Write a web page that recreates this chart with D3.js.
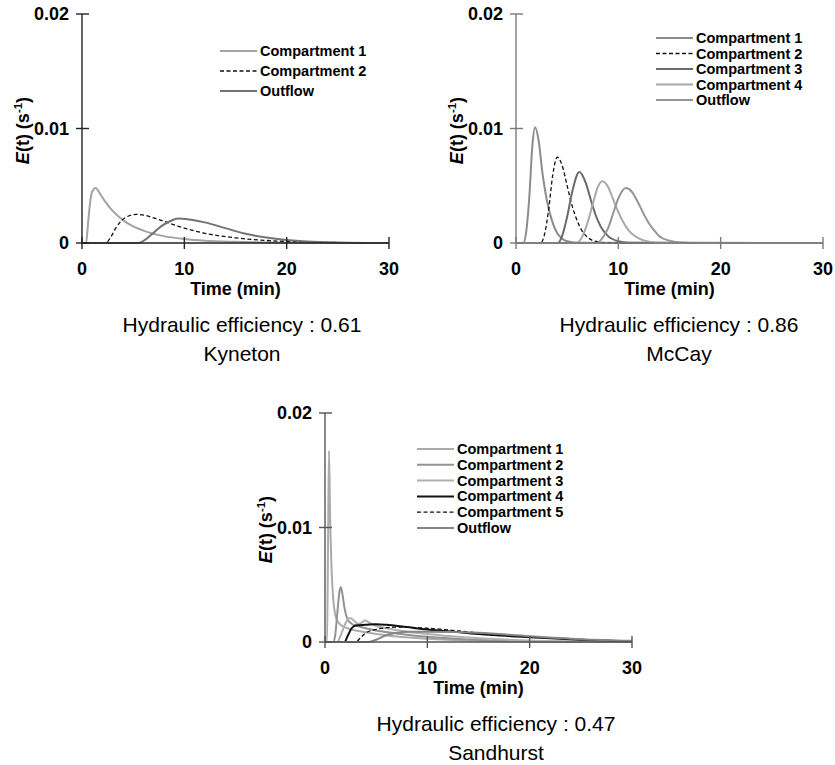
<!DOCTYPE html>
<html>
<head>
<meta charset="utf-8">
<script src="https://cdn.jsdelivr.net/npm/d3@7"></script>
<style>
  body { margin: 0; background: #fff; }
  svg { font-family: "Liberation Sans", Arial, sans-serif; }
</style>
</head>
<body>
<svg id="chart" width="835" height="765"></svg>
<script>
// ---- Kyneton ----
const KY_C1_T = [0, 0.4, 0.6, 0.8, 1.0, 1.34, 1.7, 2.2, 3, 4, 5, 6, 8, 10, 12, 15, 20, 25, 30];
const KY_C1_V = [0, 0, 0.0018, 0.0036, 0.0045, 0.0048, 0.0044, 0.0037, 0.0028, 0.002, 0.00145, 0.00108, 0.0006, 0.00035, 0.0002, 0.0001, 0.00003, 0.00001, 0];
const KY_C2_T = [0, 2.3, 2.8, 3.3, 3.8, 4.4, 5.3, 6.2, 7, 8, 10, 12, 15, 18, 20, 25, 30];
const KY_C2_V = [0, 0, 0.0005, 0.0013, 0.0019, 0.0023, 0.0025, 0.0024, 0.0022, 0.0019, 0.0013, 0.00085, 0.00045, 0.00022, 0.00014, 0.00004, 0];
const KY_OUT_T = [0, 5.5, 6.2, 7, 7.8, 8.6, 9.4, 10.5, 12, 14, 16, 18, 20, 22, 25, 30];
const KY_OUT_V = [0, 0, 0.0003, 0.0009, 0.0015, 0.0019, 0.00215, 0.00205, 0.0018, 0.0013, 0.0008, 0.00048, 0.00027, 0.00014, 0.00005, 0];

// ---- McCay ----
const MC_C1_T = [0, 0.7, 1.0, 1.3, 1.6, 1.86, 2.2, 2.6, 3.0, 3.5, 4.0, 4.5, 5, 6, 30];
const MC_C1_V = [0, 0, 0.001, 0.004, 0.0085, 0.0101, 0.009, 0.006, 0.0038, 0.002, 0.0009, 0.0004, 0.00015, 0.00002, 0];
const MC_C2_T = [0, 2.4, 2.8, 3.2, 3.6, 4.04, 4.5, 5, 5.5, 6, 6.5, 7, 8, 9, 30];
const MC_C2_V = [0, 0, 0.0008, 0.003, 0.006, 0.0075, 0.0068, 0.005, 0.0032, 0.0019, 0.001, 0.0005, 0.0001, 0.00002, 0];
const MC_C3_T = [0, 4.1, 4.5, 5, 5.5, 6.19, 6.8, 7.3, 7.8, 8.3, 9, 10, 11, 30];
const MC_C3_V = [0, 0, 0.0006, 0.0023, 0.0045, 0.0062, 0.0053, 0.0038, 0.0024, 0.0014, 0.0006, 0.00015, 0.00003, 0];
const MC_C4_T = [0, 5.9, 6.5, 7, 7.5, 8.0, 8.44, 9, 9.5, 10, 10.5, 11, 12, 13, 14, 30];
const MC_C4_V = [0, 0, 0.0006, 0.0018, 0.0034, 0.0049, 0.0054, 0.0049, 0.0038, 0.0027, 0.0018, 0.0011, 0.0004, 0.0001, 0.00002, 0];
const MC_OUT_T = [0, 7.9, 8.5, 9, 9.5, 10, 10.75, 11.3, 12, 12.5, 13, 13.5, 14, 15, 16, 17, 30];
const MC_OUT_V = [0, 0, 0.0005, 0.0013, 0.0026, 0.0039, 0.0048, 0.0045, 0.0034, 0.0025, 0.0017, 0.0011, 0.0006, 0.0002, 0.00004, 0, 0];

// ---- Sandhurst ----
const SH_C1_T = [0, 0.2, 0.3, 0.39, 0.5, 0.65, 0.8, 1.0, 1.3, 1.7, 2.2, 3, 4, 5, 7, 10, 13, 16, 20, 25, 30];
const SH_C1_V = [0, 0, 0.009, 0.0167, 0.011, 0.0062, 0.0038, 0.0024, 0.0017, 0.0014, 0.0012, 0.001, 0.00085, 0.0007, 0.00048, 0.00028, 0.00015, 0.00008, 0.00003, 0.00001, 0];
const SH_C2_T = [0, 0.8, 1.0, 1.2, 1.4, 1.54, 1.7, 1.9, 2.2, 2.6, 3.2, 4, 5, 7, 10, 13, 16, 20, 25, 30];
const SH_C2_V = [0, 0, 0.0006, 0.0025, 0.0043, 0.0048, 0.0042, 0.003, 0.002, 0.0016, 0.0014, 0.0012, 0.001, 0.00075, 0.00045, 0.00027, 0.00015, 0.00007, 0.00002, 0];
const SH_C3_T = [0, 1.2, 1.5, 1.8, 2.1, 2.44, 2.8, 3.2, 3.6, 3.9, 4.3, 5, 6, 8, 10, 13, 16, 20, 25, 30];
const SH_C3_V = [0, 0, 0.0005, 0.0012, 0.0018, 0.0021, 0.0019, 0.0016, 0.0017, 0.0019, 0.0017, 0.0014, 0.0012, 0.0009, 0.0007, 0.00045, 0.00028, 0.00013, 0.00004, 0];
const SH_C4_T = [0, 1.9, 2.2, 2.6, 3.0, 4, 5, 6, 8, 10, 12, 15, 20, 25, 30];
const SH_C4_V = [0, 0, 0.0005, 0.0012, 0.00145, 0.0015, 0.00155, 0.0015, 0.0013, 0.0011, 0.00095, 0.0007, 0.00042, 0.0002, 0.00006];
const SH_C5_T = [0, 3.0, 3.5, 4, 5, 6, 7, 10, 15, 20, 25, 30];
const SH_C5_V = [0, 0, 0.0004, 0.0008, 0.0011, 0.00125, 0.0013, 0.0012, 0.0008, 0.00045, 0.00022, 0.00008];
const SH_OUT_T = [0, 4.3, 5, 6, 7, 8, 10, 15, 20, 25, 30];
const SH_OUT_V = [0, 0, 0.0002, 0.0006, 0.0008, 0.0009, 0.0009, 0.0008, 0.0005, 0.00025, 0.0001];

const X_TICKS = [0, 10, 20, 30];
const Y_TICKS = [0, 0.01, 0.02];
const Y_TICK_LABELS = ["0", "0.01", "0.02"];

const zip = (t, v) => t.map((d, i) => ({ t: d, v: v[i] }));

const svg = d3.select("#chart");

function drawPanel(cfg) {
  const g = svg.append("g");
  const x = d3.scaleLinear().domain([0, 30]).range([cfg.x0, cfg.x0 + 307]);
  const y = d3.scaleLinear().domain([0, 0.02]).range([cfg.y0, cfg.y0 - 229]);

  // curves
  const line = d3.line().x(d => x(d.t)).y(d => y(d.v)).curve(d3.curveMonotoneX);
  cfg.series.forEach(s => {
    g.append("path")
      .datum(zip(s.t, s.v))
      .attr("d", line)
      .attr("fill", "none")
      .attr("stroke", s.color)
      .attr("stroke-width", s.dash ? 1.3 : 2)
      .attr("stroke-dasharray", s.dash ? "4,2.5" : null);
  });

  // axes (ticks cross the axis line)
  const ax = g.append("g").attr("stroke", cfg.axisColor).attr("stroke-width", 1.4);
  ax.append("line").attr("x1", x(0)).attr("x2", x(30)).attr("y1", y(0)).attr("y2", y(0));
  ax.append("line").attr("x1", x(0)).attr("x2", x(0)).attr("y1", y(0)).attr("y2", y(0.02));
  ax.selectAll(".xt").data(X_TICKS).enter().append("line")
    .attr("x1", d => x(d)).attr("x2", d => x(d)).attr("y1", y(0) - 6).attr("y2", y(0) + 6);
  ax.selectAll(".yt").data(Y_TICKS).enter().append("line")
    .attr("x1", x(0) - 6).attr("x2", x(0) + 7).attr("y1", d => y(d)).attr("y2", d => y(d));

  g.selectAll(".xl").data(X_TICKS).enter().append("text")
    .attr("x", d => x(d)).attr("y", y(0) + 26)
    .attr("text-anchor", "middle").attr("dominant-baseline", "central")
    .attr("font-size", 18).attr("font-weight", "bold")
    .text(d => d);
  g.selectAll(".yl").data(Y_TICKS).enter().append("text")
    .attr("x", x(0) - 13).attr("y", d => y(d))
    .attr("text-anchor", "end").attr("dominant-baseline", "central")
    .attr("font-size", 18).attr("font-weight", "bold")
    .text((d, i) => Y_TICK_LABELS[i]);

  // axis titles
  g.append("text")
    .attr("x", (x(0) + x(30)) / 2).attr("y", y(0) + 46)
    .attr("text-anchor", "middle").attr("dominant-baseline", "central")
    .attr("font-size", 18).attr("font-weight", "bold")
    .text("Time (min)");
  const yt = g.append("text")
    .attr("transform", `translate(${x(0) - 53},${y(0.01) + 2}) rotate(-90)`)
    .attr("text-anchor", "middle")
    .attr("font-size", 18).attr("font-weight", "bold");
  yt.append("tspan").attr("font-style", "italic").text("E");
  yt.append("tspan").text("(t) (s");
  yt.append("tspan").attr("font-size", 11.5).attr("dy", -7).text("-1");
  yt.append("tspan").attr("dy", 7).text(")");

  // captions
  g.append("text")
    .attr("x", cfg.capX).attr("y", y(0) + 81)
    .attr("text-anchor", "middle").attr("dominant-baseline", "central")
    .attr("font-size", 21)
    .text(cfg.caption);
  g.append("text")
    .attr("x", cfg.capX).attr("y", y(0) + 110)
    .attr("text-anchor", "middle").attr("dominant-baseline", "central")
    .attr("font-size", 21)
    .text(cfg.name);

  // legend
  const lg = g.selectAll(".lg").data(cfg.series).enter().append("g")
    .attr("transform", (d, i) => `translate(${cfg.legX},${cfg.legY + i * cfg.legStep})`);
  lg.append("line").attr("x1", 0).attr("x2", 37).attr("y1", 0).attr("y2", 0)
    .attr("stroke", d => d.color)
    .attr("stroke-width", d => d.dash ? 1.3 : 2)
    .attr("stroke-dasharray", d => d.dash ? "4,2.5" : null);
  lg.append("text").attr("x", 40).attr("y", 0)
    .attr("dominant-baseline", "central")
    .attr("font-size", 14.5).attr("font-weight", "bold")
    .text(d => d.label);
}

drawPanel({
  x0: 82, y0: 243, axisColor: "#222",
  caption: "Hydraulic efficiency : 0.61", name: "Kyneton", capX: 242,
  legX: 220, legY: 51, legStep: 20,
  series: [
    { label: "Compartment 1", t: KY_C1_T, v: KY_C1_V, color: "#a3a3a3" },
    { label: "Compartment 2", t: KY_C2_T, v: KY_C2_V, color: "#111", dash: true },
    { label: "Outflow", t: KY_OUT_T, v: KY_OUT_V, color: "#737373" }
  ]
});

drawPanel({
  x0: 516, y0: 243, axisColor: "#7a7a7a",
  caption: "Hydraulic efficiency : 0.86", name: "McCay", capX: 679,
  legX: 656, legY: 38, legStep: 15.5,
  series: [
    { label: "Compartment 1", t: MC_C1_T, v: MC_C1_V, color: "#8c8c8c" },
    { label: "Compartment 2", t: MC_C2_T, v: MC_C2_V, color: "#111", dash: true },
    { label: "Compartment 3", t: MC_C3_T, v: MC_C3_V, color: "#6a6a6a" },
    { label: "Compartment 4", t: MC_C4_T, v: MC_C4_V, color: "#a8a8a8" },
    { label: "Outflow", t: MC_OUT_T, v: MC_OUT_V, color: "#959595" }
  ]
});

drawPanel({
  x0: 325, y0: 642, axisColor: "#555",
  caption: "Hydraulic efficiency : 0.47", name: "Sandhurst", capX: 496,
  legX: 417, legY: 449, legStep: 15.8,
  series: [
    { label: "Compartment 1", t: SH_C1_T, v: SH_C1_V, color: "#ababab" },
    { label: "Compartment 2", t: SH_C2_T, v: SH_C2_V, color: "#939393" },
    { label: "Compartment 3", t: SH_C3_T, v: SH_C3_V, color: "#b0b0b0" },
    { label: "Compartment 4", t: SH_C4_T, v: SH_C4_V, color: "#111" },
    { label: "Compartment 5", t: SH_C5_T, v: SH_C5_V, color: "#111", dash: true },
    { label: "Outflow", t: SH_OUT_T, v: SH_OUT_V, color: "#858585" }
  ]
});
</script>
</body>
</html>
